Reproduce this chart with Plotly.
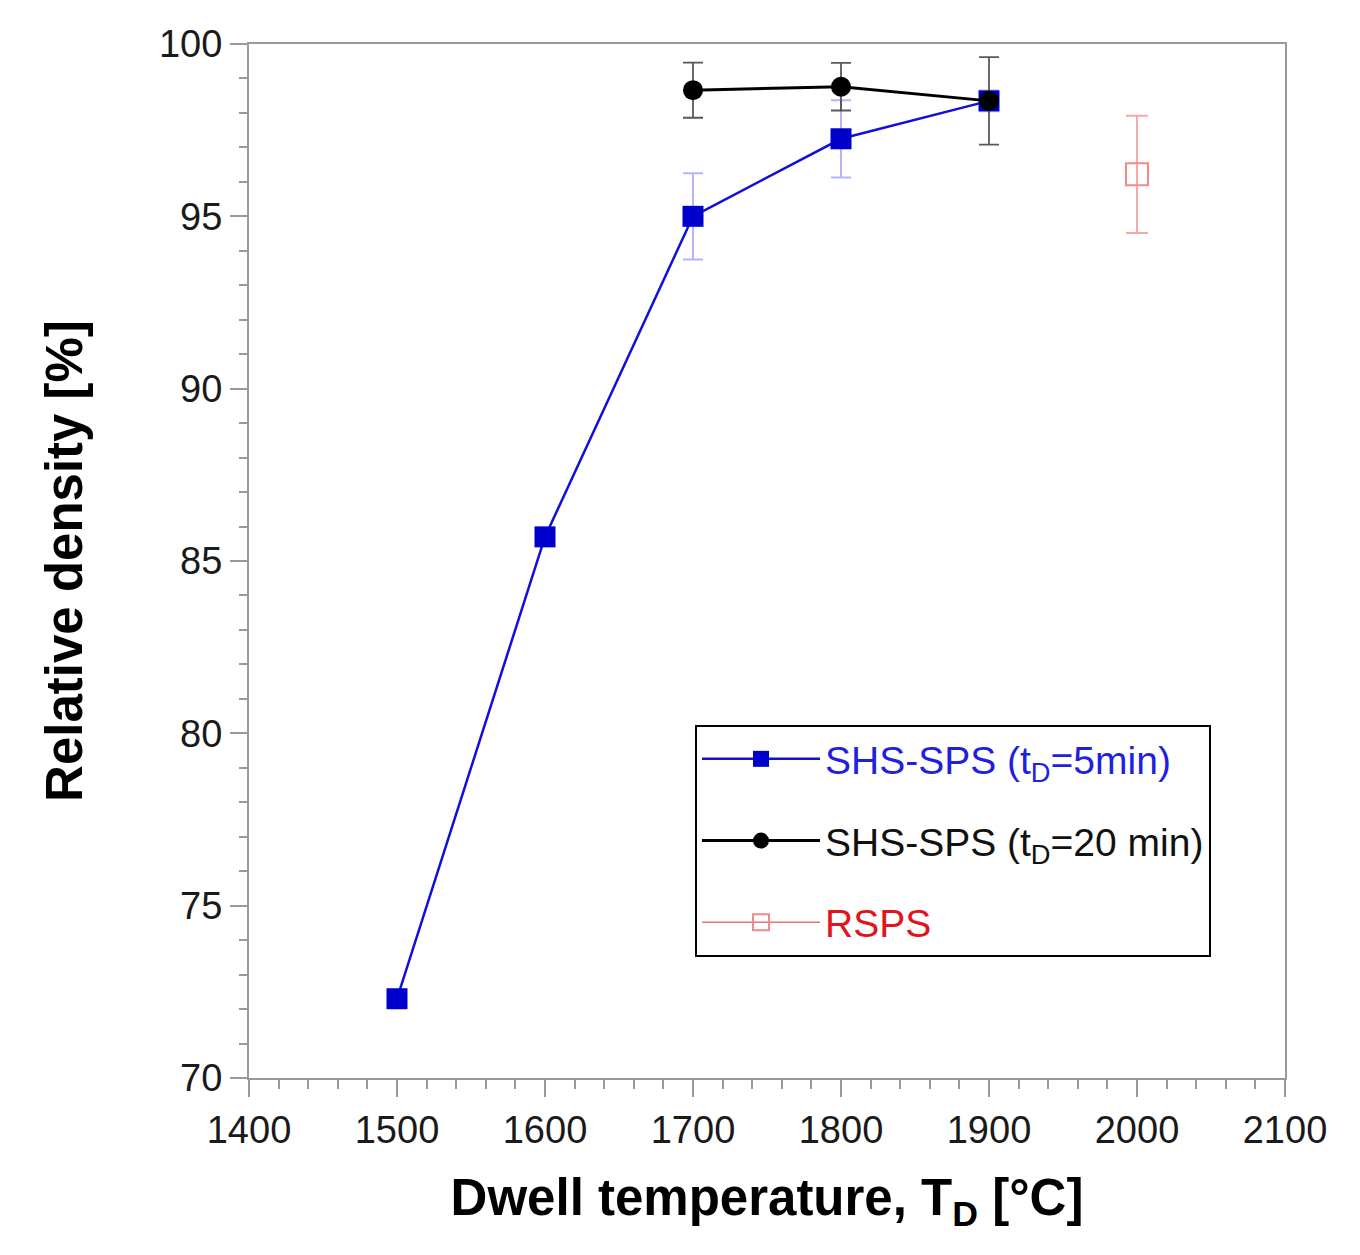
import plotly.graph_objects as go

# Data
temp_5min = [1500, 1600, 1700, 1800, 1900]
dens_5min = [72.3, 85.7, 95.0, 97.25, 98.35]
err_5min = [0.0, 0.0, 1.25, 1.12, 0.3]

temp_20min = [1700, 1800, 1900]
dens_20min = [98.66, 98.76, 98.35]
err_20min = [0.80, 0.69, 1.27]

temp_rsps = [2000]
dens_rsps = [96.22]
err_rsps = [1.70]

x_ticks = [1400, 1500, 1600, 1700, 1800, 1900, 2000, 2100]
y_ticks = [70, 75, 80, 85, 90, 95, 100]

FONT = "Liberation Sans, Arial, sans-serif"

fig = go.Figure()

fig.add_trace(go.Scatter(
    x=temp_5min, y=dens_5min,
    mode="lines+markers",
    name='<span style="color:#1f1fe0">SHS-SPS (t<sub>D</sub>=5min)</span>',
    line=dict(color="#1010d8", width=2.5),
    marker=dict(symbol="square", size=21, color="#0000cc", line=dict(width=0)),
    error_y=dict(type="data", array=err_5min, visible=True,
                 color="rgba(90,90,255,0.45)", thickness=2, width=10),
    legendgroup="a",
))

fig.add_trace(go.Scatter(
    x=temp_20min, y=dens_20min,
    mode="lines+markers",
    name='<span style="color:#111111">SHS-SPS (t<sub>D</sub>=20 min)</span>',
    line=dict(color="#000000", width=3),
    marker=dict(symbol="circle", size=20, color="#000000", line=dict(width=0)),
    error_y=dict(type="data", array=err_20min, visible=True,
                 color="rgba(60,60,60,0.85)", thickness=1.8, width=10),
    legendgroup="b",
))

fig.add_trace(go.Scatter(
    x=temp_rsps, y=dens_rsps,
    mode="lines+markers",
    name='<span style="color:#e0141c">RSPS</span>',
    line=dict(color="#f07070", width=1.5),
    marker=dict(symbol="square-open", size=22, color="#f28a8a", line=dict(width=2)),
    error_y=dict(type="data", array=err_rsps, visible=True,
                 color="rgba(240,110,110,0.6)", thickness=2, width=11),
    legendgroup="c",
))

axis_common = dict(
    showline=True, linecolor="#9a9a9a", linewidth=2, mirror=True,
    showgrid=False, zeroline=False,
    ticks="outside", tickcolor="#9a9a9a", tickwidth=2, ticklen=17,
    tickfont=dict(family=FONT, size=38, color="#1a1a1a"),
)

fig.update_xaxes(
    range=[1400, 2100], tickvals=x_ticks,
    minor=dict(dtick=20, ticks="outside", ticklen=9, tickcolor="#9a9a9a", tickwidth=2),
    title=dict(text="<b>Dwell temperature, T<sub>D</sub> [°C]</b>",
               font=dict(family=FONT, size=51, color="#000000"), standoff=30),
    **axis_common,
)
fig.update_yaxes(
    range=[70, 100], tickvals=y_ticks,
    minor=dict(dtick=1, ticks="outside", ticklen=8, tickcolor="#9a9a9a", tickwidth=2),
    title=dict(text="<b>Relative density [%]</b>",
               font=dict(family=FONT, size=51, color="#000000"), standoff=60),
    **axis_common,
)

fig.update_layout(
    width=1360, height=1255,
    margin=dict(l=241, r=83, t=36, b=185),
    paper_bgcolor="white", plot_bgcolor="white",
    showlegend=True,
    legend=dict(
        x=0.4305, y=0.3414, xanchor="left", yanchor="top",
        bgcolor="white", bordercolor="#000000", borderwidth=2,
        font=dict(family=FONT, size=39, color="#000000"),
        traceorder="grouped", tracegroupgap=28,
        itemwidth=118,
    ),
)

fig.write_html("out.html")
